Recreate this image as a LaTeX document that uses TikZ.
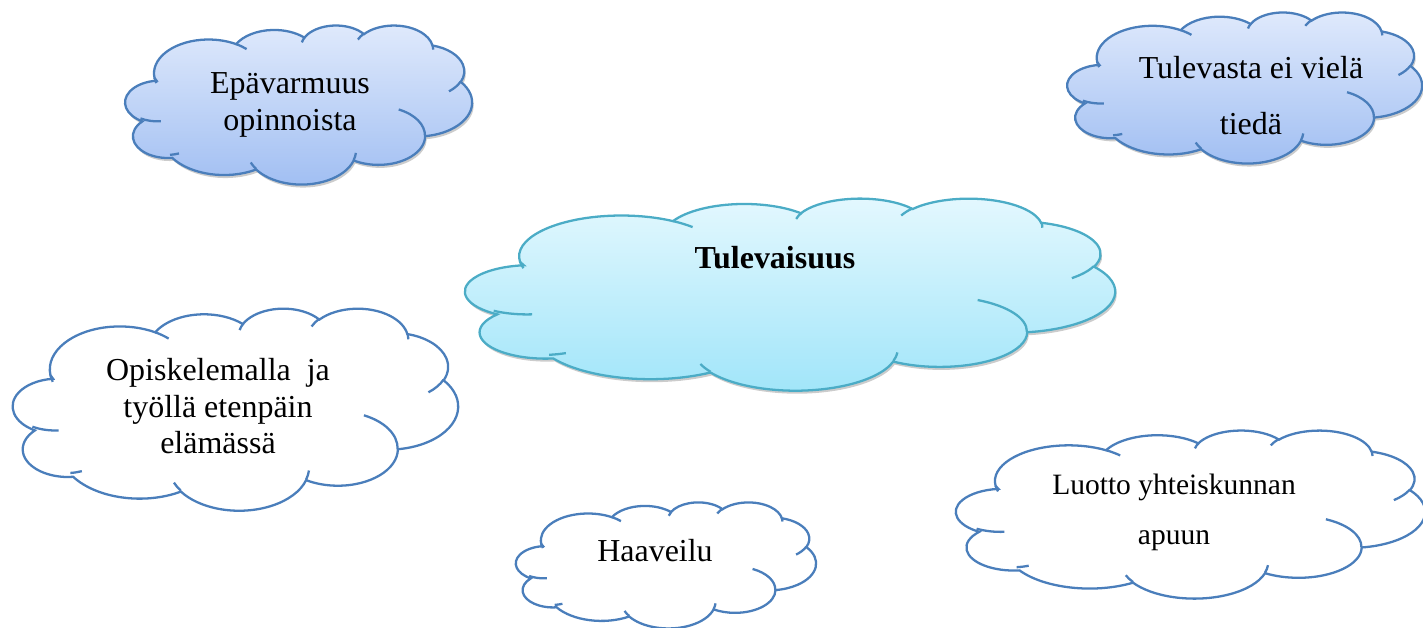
\documentclass[tikz,border=0pt]{standalone}
\usepackage{fontspec}
\setmainfont{Liberation Serif}
\definecolor{cloudblue}{HTML}{4A7EBB}
\definecolor{cloudteal}{HTML}{4BACC6}
\definecolor{blueTop}{HTML}{E0EAFC}
\definecolor{blueBot}{HTML}{A0BEF2}
\definecolor{cyanTop}{HTML}{E4F8FE}
\definecolor{cyanBot}{HTML}{A0E5F9}
\newcommand\ooarcdef[5]{%
  \pgfmathsetmacro\ooTa{atan2((#2)*sin(#4),(#3)*cos(#4))}%
  \pgfmathsetmacro\ooTb{atan2((#2)*sin((#4)+(#5)),(#3)*cos((#4)+(#5)))}%
  \pgfmathsetmacro\ooTd{mod((\ooTb)-(\ooTa)+720,360)}%
  \expandafter\xdef\csname oo#1\endcsname{arc[start angle=\ooTa, delta angle=\ooTd, x radius=#2, y radius=#3]}%
}
\newcommand\oopathouter{(3.9,14.37) \ooA \ooB \ooC \ooD \ooE \ooF \ooG \ooH \ooI \ooJ \ooK -- cycle}
\newcommand\oopathinner{(4.693,26.177) \ooiA (6.928,34.899) \ooiB (16.478,39.090) \ooiC (28.827,34.751) \ooiD (34.129,22.954) \ooiE (41.798,15.354) \ooiF (38.324,5.426) \ooiG (29.078,3.952) \ooiH (22.141,4.720) \ooiI (14.000,5.192) \ooiJ (4.127,15.789) \ooiK}
\newcommand\cloudshape[6]{%
  \begin{scope}[shift={(#1,#2)}, xscale=#3/43.2, yscale=#4/43.2]
    \path[#5] \oopathouter;
    \draw[#6] \oopathinner;
  \end{scope}}
\newcommand\cloudshadow[4]{%
  \begin{scope}[shift={(#1+1.5,#2+3)}, xscale=#3/43.2, yscale=#4/43.2]
    \fill[black, opacity=0.2] \oopathouter;
  \end{scope}}
\begin{document}
\begin{tikzpicture}[x=0.02cm, y=0.02cm, yscale=-1,
  blueOuter/.style={draw=cloudblue, line width=1.3pt, top color=blueTop, bottom color=blueBot},
  blueInner/.style={draw=cloudblue, line width=1.3pt},
  tealOuter/.style={draw=cloudteal, line width=1.3pt, top color=cyanTop, bottom color=cyanBot},
  tealInner/.style={draw=cloudteal, line width=1.3pt},
  whiteOuter/.style={draw=cloudblue, line width=1.3pt, fill=white},
  cloudtext/.style={align=center, inner sep=0pt, text=black}]
\useasboundingbox (0,0) rectangle (1423,628);
\ooarcdef{A}{6.753}{9.190}{-190.4875}{123.7805}
\ooarcdef{B}{5.333}{7.267}{-144.1024}{89.9452}
\ooarcdef{C}{4.365}{5.945}{-145.8079}{99.7230}
\ooarcdef{D}{4.857}{6.595}{-130.9861}{117.2417}
\ooarcdef{E}{5.333}{7.273}{-78.7089}{109.0269}
\ooarcdef{F}{6.775}{9.220}{-46.2673}{130.2690}
\ooarcdef{G}{5.785}{7.867}{0.6250}{114.0333}
\ooarcdef{H}{6.752}{9.215}{22.4516}{115.1726}
\ooarcdef{I}{7.720}{10.543}{66.2426}{71.2546}
\ooarcdef{J}{4.360}{5.918}{-274.9421}{146.7356}
\ooarcdef{K}{4.345}{5.945}{-246.8285}{152.5189}
\ooarcdef{iA}{4.345}{5.945}{86.742}{26.4295}
\ooarcdef{iB}{4.360}{5.918}{73.6105}{11.4475}
\ooarcdef{iC}{6.752}{9.215}{137.6242}{14.0811}
\ooarcdef{iD}{6.752}{9.215}{6.4533}{15.9984}
\ooarcdef{iE}{5.785}{7.867}{-70.2924}{70.9174}
\ooarcdef{iF}{5.333}{7.273}{30.3180}{27.7515}
\ooarcdef{iG}{4.857}{6.595}{-13.7443}{14.8589}
\ooarcdef{iH}{4.857}{6.595}{-149.1815}{18.1954}
\ooarcdef{iI}{4.365}{5.945}{-163.4943}{17.6864}
\ooarcdef{iJ}{6.753}{9.190}{-66.7070}{12.3194}
\ooarcdef{iK}{6.753}{9.190}{157.6544}{11.8582}
% clouds
\cloudshadow{123}{25}{349}{159}
\cloudshape{123}{25}{349}{159}{blueOuter}{blueInner}
\cloudshadow{1065}{12}{357}{151}
\cloudshape{1065}{12}{357}{151}{blueOuter}{blueInner}
\cloudshadow{461}{198}{654}{192}
\cloudshape{461}{198}{654}{192}{tealOuter}{tealInner}
\cloudshape{10}{308}{448}{202}{whiteOuter}{blueInner}
\cloudshape{514}{502}{302}{126}{whiteOuter}{blueInner}
\cloudshape{953}{430}{472}{168}{whiteOuter}{blueInner}
% texts
\node[cloudtext, font=\fontsize{18.2}{21.05}\selectfont] (epa) at (290,104.5) {Epävarmuus\\opinnoista};
\node[cloudtext, font=\fontsize{18.2}{31.9}\selectfont] (tulevasta) at (1251,95.5) {Tulevasta ei vielä\\tiedä};
\node[cloudtext, font=\fontsize{18.2}{21}\selectfont\bfseries] (tulevaisuus) at (775,258) {Tulevaisuus};
\node[cloudtext, font=\fontsize{18.2}{20.8}\selectfont] (opiskelu) at (218,406.5) {Opiskelemalla\ \ ja\\työllä etenpäin\\elämässä};
\node[cloudtext, font=\fontsize{18.2}{21}\selectfont] (haaveilu) at (655,551) {Haaveilu};
\node[cloudtext, font=\fontsize{16.8}{28.45}\selectfont] (luotto) at (1174,512.5) {Luotto yhteiskunnan\\apuun};
\end{tikzpicture}
\end{document}
